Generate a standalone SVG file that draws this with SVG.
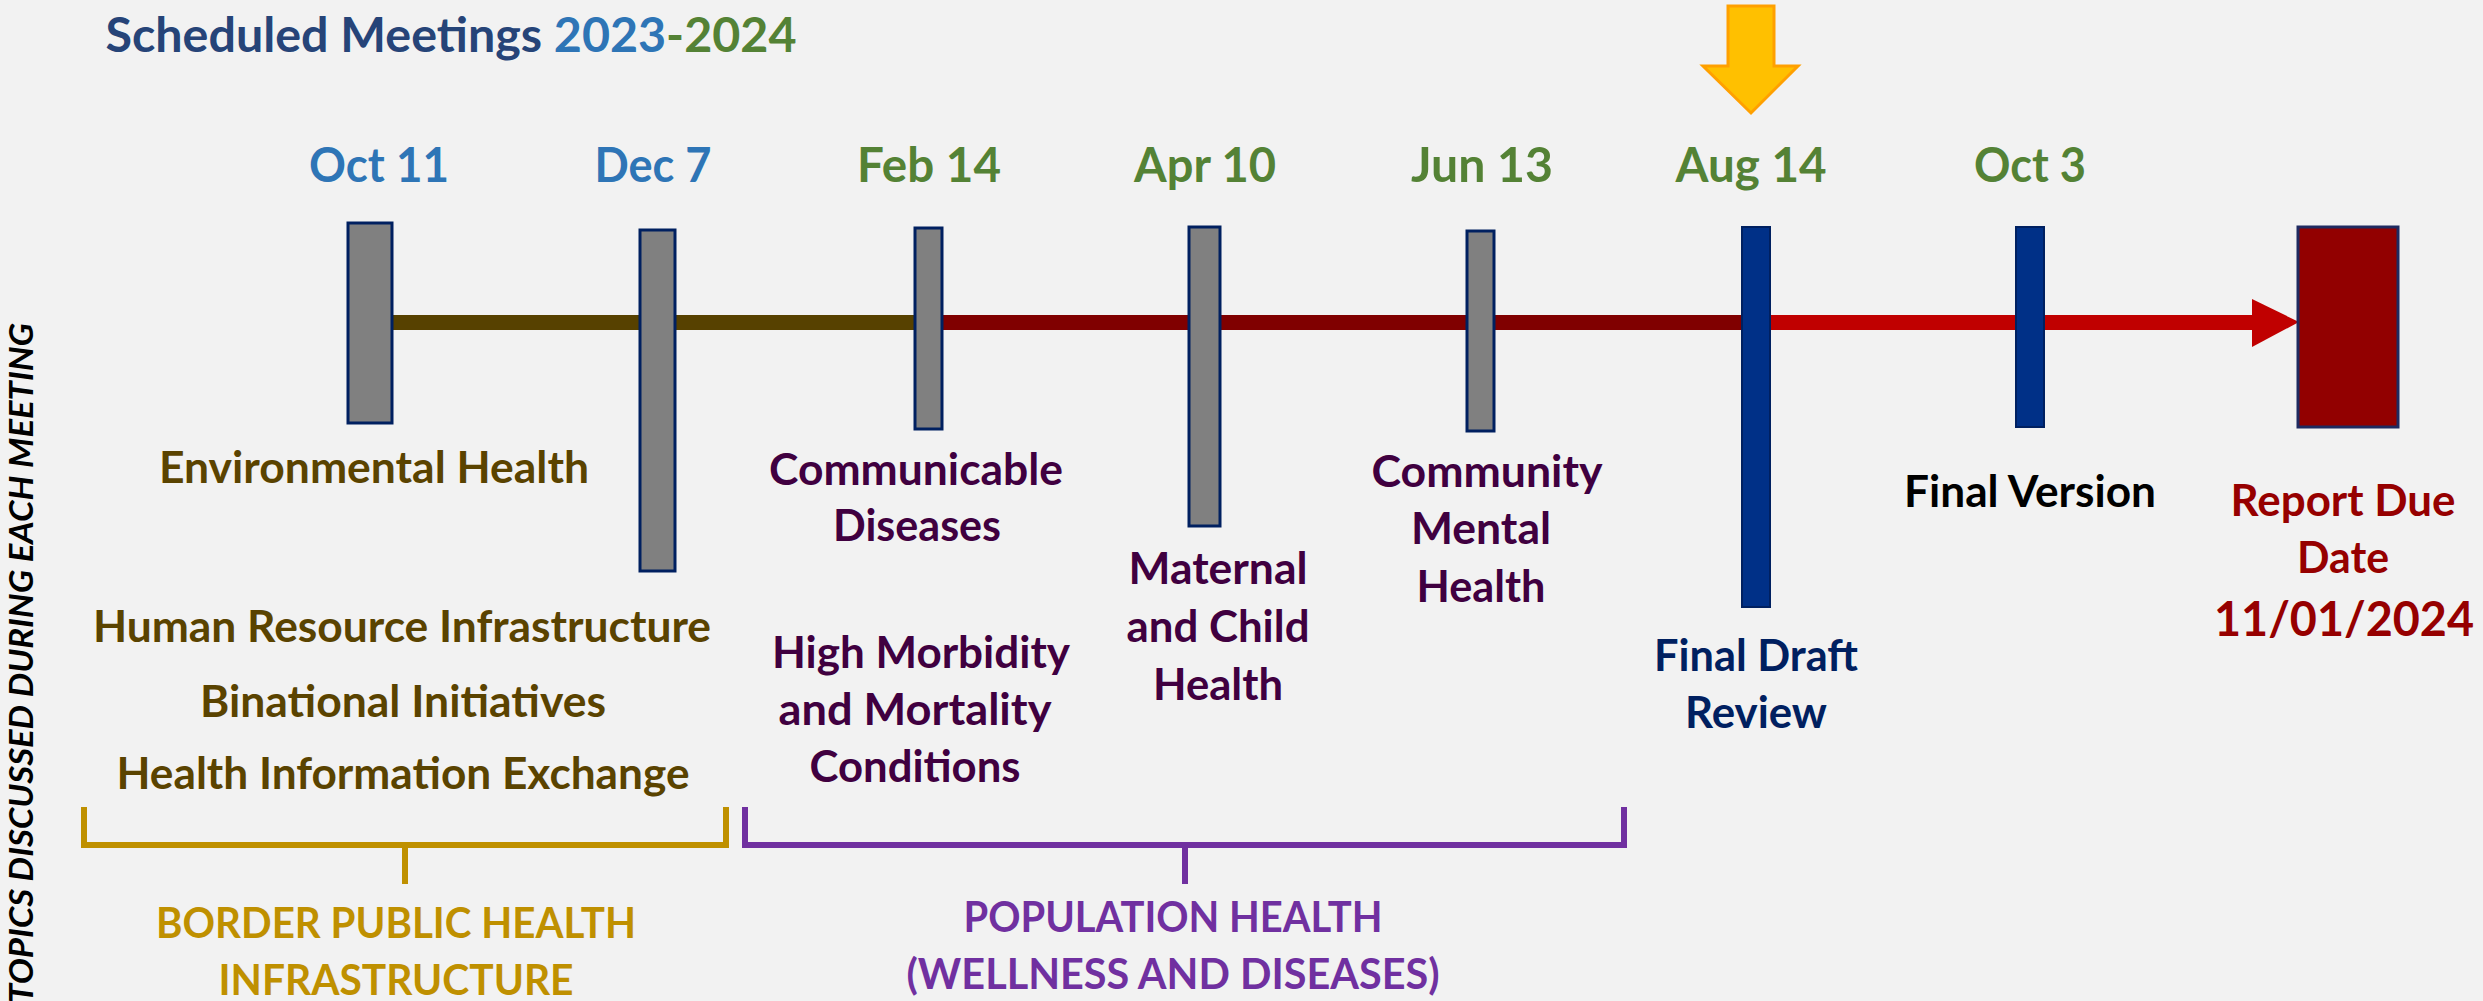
<svg xmlns="http://www.w3.org/2000/svg" width="2483" height="1001" viewBox="0 0 2483 1001">
<style>
text{font-family:Lato,"Open Sans","Liberation Sans",sans-serif;font-weight:bold;text-anchor:middle}
.date{font-size:48px}
.blue{fill:#2E75B6}
.green{fill:#548235}
.topic{font-size:43px}
.brown{fill:#5A4300}
.purple{fill:#400040}
.navy{fill:#002060}
.red{fill:#960000}
.bar{fill:#808080;stroke:#002060;stroke-width:3}
.bbar{fill:#003087;stroke:#002060;stroke-width:2}
.cat{font-size:42px}
</style>
<rect x="0" y="0" width="2483" height="1001" fill="#F2F2F2"/>

<g id="title">
<text x="451" y="52" font-size="47" textLength="691" lengthAdjust="spacingAndGlyphs" fill="#264478">Scheduled Meetings <tspan fill="#2E75B6">2023</tspan><tspan fill="#548235">-2024</tspan></text>
</g>

<g id="side-label">
<text transform="translate(33,1003) rotate(-90)" x="0" y="0" font-size="32" font-style="italic" style="text-anchor:start" textLength="680" lengthAdjust="spacingAndGlyphs" fill="#000">TOPICS DISCUSSED DURING EACH MEETING</text>
</g>

<g id="connectors">
<rect x="370" y="315" width="560" height="15" fill="#574100"/>
<rect x="930" y="315" width="826" height="15" fill="#800000"/>
<rect x="1756" y="315" width="498" height="15" fill="#C00000"/>
<polygon points="2252,299 2299,322 2252,347" fill="#C00000"/>
</g>

<g id="highlight-arrow">
<polygon points="1728,6 1774,6 1774,66 1798,66 1751,113 1703,66 1728,66" fill="#FFC000" stroke="#FFA000" stroke-width="3"/>
</g>

<g id="m-oct11">
<rect class="bar" x="348" y="223" width="44" height="200"/>
<text class="date blue" x="379" y="182" textLength="140" lengthAdjust="spacingAndGlyphs">Oct 11</text>
<text class="topic brown" x="374" y="483" textLength="430" lengthAdjust="spacingAndGlyphs">Environmental Health</text>
</g>

<g id="m-dec7">
<rect class="bar" x="640" y="230" width="35" height="341"/>
<text class="date blue" x="653" y="182" textLength="117" lengthAdjust="spacingAndGlyphs">Dec 7</text>
<text class="topic brown" x="402" y="642" textLength="618" lengthAdjust="spacingAndGlyphs">Human Resource Infrastructure</text>
<text class="topic brown" x="403" y="717" textLength="406" lengthAdjust="spacingAndGlyphs">Binational Initiatives</text>
<text class="topic brown" x="403" y="789" textLength="573" lengthAdjust="spacingAndGlyphs">Health Information Exchange</text>
</g>

<g id="m-feb14">
<rect class="bar" x="915" y="228" width="27" height="201"/>
<text class="date green" x="929" y="182" textLength="144" lengthAdjust="spacingAndGlyphs">Feb 14</text>
<text class="topic purple" x="916" y="485" textLength="294" lengthAdjust="spacingAndGlyphs">Communicable</text>
<text class="topic purple" x="917" y="541" textLength="168" lengthAdjust="spacingAndGlyphs">Diseases</text>
<text class="topic purple" x="921" y="668" textLength="298" lengthAdjust="spacingAndGlyphs">High Morbidity</text>
<text class="topic purple" x="915" y="725" textLength="273" lengthAdjust="spacingAndGlyphs">and Mortality</text>
<text class="topic purple" x="915" y="782" textLength="211" lengthAdjust="spacingAndGlyphs">Conditions</text>
</g>

<g id="m-apr10">
<rect class="bar" x="1189" y="227" width="31" height="299"/>
<text class="date green" x="1205" y="182" textLength="142" lengthAdjust="spacingAndGlyphs">Apr 10</text>
<text class="topic purple" x="1218" y="584" textLength="179" lengthAdjust="spacingAndGlyphs">Maternal</text>
<text class="topic purple" x="1218" y="642" textLength="183" lengthAdjust="spacingAndGlyphs">and Child</text>
<text class="topic purple" x="1218" y="700" textLength="130" lengthAdjust="spacingAndGlyphs">Health</text>
</g>

<g id="m-jun13">
<rect class="bar" x="1467" y="231" width="27" height="200"/>
<text class="date green" x="1482" y="182" textLength="142" lengthAdjust="spacingAndGlyphs">Jun 13</text>
<text class="topic purple" x="1487" y="487" textLength="231" lengthAdjust="spacingAndGlyphs">Community</text>
<text class="topic purple" x="1481" y="544" textLength="140" lengthAdjust="spacingAndGlyphs">Mental</text>
<text class="topic purple" x="1481" y="602" textLength="129" lengthAdjust="spacingAndGlyphs">Health</text>
</g>

<g id="m-aug14">
<rect class="bbar" x="1742" y="227" width="28" height="380"/>
<text class="date green" x="1751" y="182" textLength="151" lengthAdjust="spacingAndGlyphs">Aug 14</text>
<text class="topic navy" x="1756" y="671" textLength="204" lengthAdjust="spacingAndGlyphs">Final Draft</text>
<text class="topic navy" x="1756" y="728" textLength="142" lengthAdjust="spacingAndGlyphs">Review</text>
</g>

<g id="m-oct3">
<rect class="bbar" x="2016" y="227" width="28" height="200"/>
<text class="date green" x="2030" y="182" textLength="112" lengthAdjust="spacingAndGlyphs">Oct 3</text>
<text class="topic" x="2030" y="507" textLength="252" lengthAdjust="spacingAndGlyphs" fill="#000">Final Version</text>
</g>

<g id="report-due">
<rect x="2298" y="227" width="100" height="200" fill="#920000" stroke="#1F2A60" stroke-width="3"/>
<text class="topic red" x="2343" y="516" textLength="225" lengthAdjust="spacingAndGlyphs">Report Due</text>
<text class="topic red" x="2343" y="573" textLength="92" lengthAdjust="spacingAndGlyphs">Date</text>
<text class="red" x="2344" y="636" font-size="47" textLength="260" lengthAdjust="spacingAndGlyphs">11/01/2024</text>
</g>

<g id="group-border">
<path d="M84,807 V845 H726 V807 M405,845 V884" fill="none" stroke="#BF9000" stroke-width="6"/>
<text class="cat" x="396" y="938" fill="#BF9000" textLength="480" lengthAdjust="spacingAndGlyphs">BORDER PUBLIC HEALTH</text>
<text class="cat" x="396" y="995" fill="#BF9000" textLength="355" lengthAdjust="spacingAndGlyphs">INFRASTRUCTURE</text>
</g>

<g id="group-population">
<path d="M745,807 V845 H1624 V807 M1185,845 V884" fill="none" stroke="#7030A0" stroke-width="6"/>
<text class="cat" x="1173" y="932" fill="#7030A0" textLength="419" lengthAdjust="spacingAndGlyphs">POPULATION HEALTH</text>
<text class="cat" x="1173" y="989" fill="#7030A0" textLength="533" lengthAdjust="spacingAndGlyphs">(WELLNESS AND DISEASES)</text>
</g>
</svg>
